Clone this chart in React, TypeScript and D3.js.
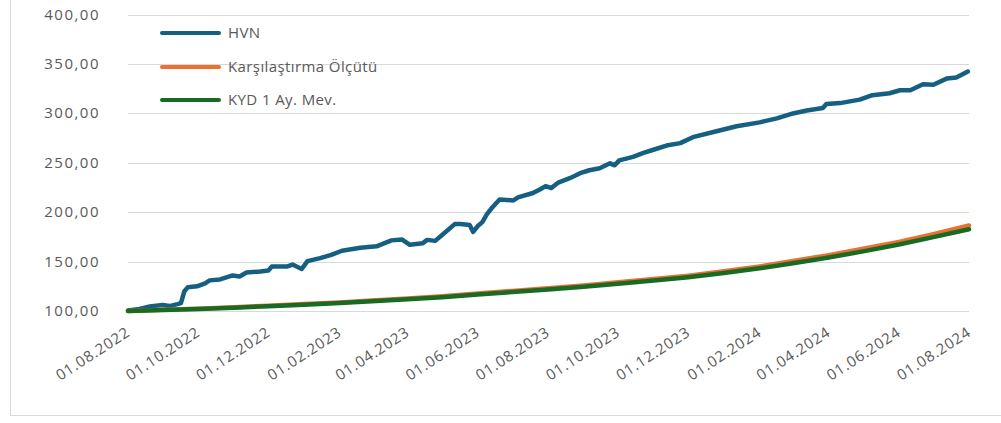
import React from "react";
import * as d3 from "d3";

// HVN fon fiyatı (okunan noktalar)
const hvnDates = [
  "2022-08-01", "2022-08-11", "2022-08-20", "2022-08-31", "2022-09-06", "2022-09-13", "2022-09-16",
  "2022-09-19", "2022-09-22", "2022-09-30", "2022-10-07", "2022-10-11", "2022-10-20", "2022-10-31",
  "2022-11-06", "2022-11-12", "2022-11-24", "2022-12-01", "2022-12-04", "2022-12-17", "2022-12-22",
  "2022-12-30", "2023-01-04", "2023-01-15", "2023-01-24", "2023-02-03", "2023-02-19", "2023-03-05",
  "2023-03-18", "2023-03-27", "2023-04-03", "2023-04-14", "2023-04-18", "2023-04-25", "2023-05-02",
  "2023-05-12", "2023-05-17", "2023-05-25", "2023-05-28", "2023-06-01", "2023-06-05", "2023-06-09",
  "2023-06-13", "2023-06-20", "2023-07-02", "2023-07-06", "2023-07-19", "2023-07-25", "2023-07-30",
  "2023-08-04", "2023-08-10", "2023-08-20", "2023-08-29", "2023-09-06", "2023-09-15", "2023-09-24",
  "2023-09-28", "2023-10-02", "2023-10-14", "2023-10-23", "2023-10-31", "2023-11-12", "2023-11-24",
  "2023-12-05", "2023-12-22", "2024-01-12", "2024-02-01", "2024-02-16", "2024-03-01", "2024-03-13",
  "2024-03-27", "2024-03-30", "2024-04-11", "2024-04-28", "2024-05-09", "2024-05-24", "2024-06-02",
  "2024-06-11", "2024-06-22", "2024-07-01", "2024-07-13", "2024-07-21", "2024-07-31",
];
const hvnValues = [
  100.5, 102, 104.5, 106, 105, 107, 108,
  120, 124, 125, 128, 131, 132, 136,
  135, 139, 140, 141, 145, 145, 147,
  142.5, 150.5, 153.5, 156.5, 161, 164, 165.5,
  171.5, 172.5, 167, 168.5, 172, 171, 178,
  188, 188, 187, 180, 186, 190, 198,
  204, 213, 212, 215, 219.5, 223, 226.5,
  224.5, 230, 234.5, 239.5, 242.5, 244.5, 249.5,
  247.5, 252.5, 256, 260, 263, 267.5, 270,
  276, 281, 287, 291, 295, 300, 303,
  305.5, 309.5, 310.5, 314, 318.5, 320.5, 323.5,
  323.5, 329.5, 329, 335.5, 336.5, 342.5,
];

// Karşılaştırma Ölçütü ve KYD 1 Ay. Mev. (aylık)
const monthDates = [
  "2022-08-01", "2022-09-01", "2022-10-01", "2022-11-01", "2022-12-01", "2023-01-01", "2023-02-01",
  "2023-03-01", "2023-04-01", "2023-05-01", "2023-06-01", "2023-07-01", "2023-08-01", "2023-09-01",
  "2023-10-01", "2023-11-01", "2023-12-01", "2024-01-01", "2024-02-01", "2024-03-01", "2024-04-01",
  "2024-05-01", "2024-06-01", "2024-07-01", "2024-08-01",
];
const benchValues = [
  100, 101.2, 102.4, 103.9, 105.4, 107, 108.7,
  110.6, 112.7, 115, 117.6, 120.3, 123, 125.9,
  129, 132.3, 135.8, 140.2, 145.2, 150.6, 156.6,
  163, 170, 177.8, 186.6,
];
const kydValues = [
  100, 100.9, 102, 103.4, 104.9, 106.4, 108,
  109.8, 111.8, 114, 116.6, 119.2, 121.8, 124.6,
  127.6, 130.8, 134.2, 138.4, 143.2, 148.4, 154.2,
  160.4, 167.3, 174.8, 182.8,
];

const seriesNames = ["HVN", "Karşılaştırma Ölçütü", "KYD 1 Ay. Mev."];
const seriesColors = ["#156082", "#E97132", "#196B24"];

const yTicks = [100, 150, 200, 250, 300, 350, 400];
const xTickDates = [
  "2022-08-01", "2022-10-01", "2022-12-01", "2023-02-01", "2023-04-01", "2023-06-01", "2023-08-01",
  "2023-10-01", "2023-12-01", "2024-02-01", "2024-04-01", "2024-06-01", "2024-08-01",
];

const W = 1001;
const H = 423;
const FONT = "'Open Sans', sans-serif";

export default function App() {
  const parse = d3.timeParse("%Y-%m-%d");
  const x = d3
    .scaleTime()
    .domain([parse("2022-08-01")!, parse("2024-08-01")!])
    .range([128, 969]);
  const y = d3.scaleLinear().domain([100, 400]).range([311, 14.7]);

  const line = d3
    .line<[Date, number]>()
    .x((d) => x(d[0]))
    .y((d) => y(d[1]));

  const series: [Date, number][][] = [
    hvnDates.map((d, i) => [parse(d)!, hvnValues[i]]),
    monthDates.map((d, i) => [parse(d)!, benchValues[i]]),
    monthDates.map((d, i) => [parse(d)!, kydValues[i]]),
  ];

  const fmtY = (v: number) => d3.format(".2f")(v).replace(".", ",");
  const fmtX = d3.timeFormat("%d.%m.%Y");

  return (
    <div style={{ position: "absolute", left: 0, top: 0 }}>
      <svg width={W} height={H} style={{ display: "block", background: "#fff" }}>
        <rect x={10.5} y={-5} width={1000} height={420.5} fill="none" stroke="#d9d9d9" />

        {yTicks.map((t) => (
          <g key={t}>
            <line x1={128} x2={969} y1={Math.round(y(t)) + 0.5} y2={Math.round(y(t)) + 0.5} stroke="#d9d9d9" />
            <text
              x={100}
              y={y(t) + 5}
              textAnchor="end"
              fontFamily={FONT}
              fontSize={15}
              letterSpacing={1.5}
              fill="#595959"
            >
              {fmtY(t)}
            </text>
          </g>
        ))}

        {xTickDates.map((d) => {
          const px = x(parse(d)!);
          return (
            <text
              key={d}
              transform={`translate(${px + 3},${335}) rotate(-33)`}
              textAnchor="end"
              fontFamily={FONT}
              fontSize={15}
              letterSpacing={0.8}
              fill="#595959"
            >
              {fmtX(parse(d)!)}
            </text>
          );
        })}

        {series.map((s, i) => (
          <path
            key={i}
            d={line(s) || ""}
            fill="none"
            stroke={seriesColors[i]}
            strokeWidth={4.5}
            strokeLinejoin="round"
            strokeLinecap="round"
          />
        ))}

        {seriesNames.map((n, i) => {
          const ly = [33, 67, 100][i];
          return (
            <g key={n}>
              <line x1={162} x2={219} y1={ly} y2={ly} stroke={seriesColors[i]} strokeWidth={4} strokeLinecap="round" />
              <text x={228} y={ly + 5} fontFamily={FONT} fontSize={15} letterSpacing={0.4} fill="#595959">
                {n}
              </text>
            </g>
          );
        })}
      </svg>
    </div>
  );
}
